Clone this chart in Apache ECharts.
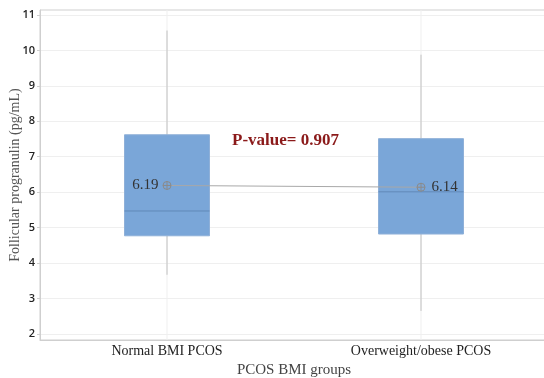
<!DOCTYPE html>
<html><head><meta charset="utf-8">
<script src="https://cdn.jsdelivr.net/npm/echarts@6/dist/echarts.min.js"></script>
<style>html,body{margin:0;padding:0;background:#fff}#c{width:544px;height:378px}</style>
</head><body><div id="c"></div>
<script>
const categories = ['Normal BMI PCOS', 'Overweight/obese PCOS'];
const whiskerLow = [3.67, 2.65];
const q1Values = [4.77, 4.82];
const medians = [5.47, 6.01];
const q3Values = [7.62, 7.51];
const whiskerHigh = [10.56, 9.88];
const means = [6.19, 6.14];
const yTicks = [2, 3, 4, 5, 6, 7, 8, 9, 10, 11];
const pValueText = 'P-value= 0.907';

const boxData = categories.map((c, i) => [i, whiskerLow[i], q1Values[i], medians[i], q3Values[i], whiskerHigh[i]]);
const serif = '"Liberation Serif", "Times New Roman", serif';

const chart = echarts.init(document.getElementById('c'));
chart.setOption({
  animation: false,
  grid: { left: 40, right: -4, top: 10, bottom: 38, show: true, borderColor: '#cfcfcf', borderWidth: 1, outerBoundsMode: 'none', containLabel: false },
  xAxis: {
    type: 'category', data: categories,
    name: 'PCOS BMI groups', nameLocation: 'middle', nameGap: 23, nameMoveOverlap: false,
    nameTextStyle: { fontFamily: serif, fontSize: 15, color: '#444' },
    axisLine: { show: true, lineStyle: { color: '#cfcfcf' } },
    axisTick: { show: false },
    axisLabel: { fontFamily: serif, fontSize: 14, color: '#222', margin: 4 },
    splitLine: { show: false }
  },
  yAxis: {
    type: 'value', min: 1.83, max: 11.14,
    name: 'Follicular progranulin (pg/mL)', nameLocation: 'middle', nameGap: 18, nameMoveOverlap: false,
    nameTextStyle: { fontFamily: serif, fontSize: 14, color: '#555' },
    axisLine: { show: true, lineStyle: { color: '#cfcfcf' } },
    axisTick: { show: true, length: 3, lineStyle: { color: '#cfcfcf' }, customValues: yTicks },
    axisLabel: { fontFamily: '"Open Sans", sans-serif', fontSize: 11, fontWeight: 600, color: '#222', margin: 5, customValues: yTicks },
    splitLine: { show: true, lineStyle: { color: '#efefef' } }
  },
  series: [
    {
      type: 'custom',
      data: boxData,
      z: 2,
      renderItem: function (params, api) {
        const x = api.value(0);
        const pLow = api.coord([x, api.value(1)]);
        const pQ1 = api.coord([x, api.value(2)]);
        const pMed = api.coord([x, api.value(3)]);
        const pQ3 = api.coord([x, api.value(4)]);
        const pHigh = api.coord([x, api.value(5)]);
        const cs = params.coordSys;
        const w = 85;
        const cx = pQ1[0];
        return {
          type: 'group',
          children: [
            { type: 'line', shape: { x1: cx, y1: cs.y, x2: cx, y2: cs.y + cs.height }, style: { stroke: '#efefef', lineWidth: 1 } },
            { type: 'line', shape: { x1: cx, y1: pHigh[1], x2: cx, y2: pQ3[1] }, style: { stroke: '#c2c2c2', lineWidth: 1 } },
            { type: 'line', shape: { x1: cx, y1: pQ1[1], x2: cx, y2: pLow[1] }, style: { stroke: '#c2c2c2', lineWidth: 1 } },
            { type: 'rect', shape: { x: cx - w / 2, y: pQ3[1], width: w, height: pQ1[1] - pQ3[1] }, style: { fill: '#7aa6d8', stroke: '#8fb0d8', lineWidth: 1 } },
            { type: 'line', shape: { x1: cx - w / 2, y1: pMed[1], x2: cx + w / 2, y2: pMed[1] }, style: { stroke: '#6188b8', lineWidth: 1 } }
          ]
        };
      }
    },
    {
      type: 'line',
      z: 5,
      data: [
        { value: means[0], label: { show: true, position: 'left', distance: 2 } },
        { value: means[1], label: { show: true, position: 'right', distance: 4 } }
      ],
      lineStyle: { color: '#a8a8a8', width: 1 },
      symbol: 'path://M10,0A10,10 0 1 1 -10,0A10,10 0 1 1 10,0ZM-10,0L10,0M0,-10L0,10',
      symbolSize: 8,
      itemStyle: { color: 'none', borderColor: '#8a8a8a', borderWidth: 1 },
      label: { fontFamily: serif, fontSize: 15, color: '#333', formatter: p => p.value.toFixed(2) }
    }
  ],
  graphic: [
    { type: 'text', left: 232, top: 132, style: { text: pValueText, font: 'bold 17px "Liberation Serif", serif', fill: '#8b1a1a' } }
  ]
});
</script></body></html>
